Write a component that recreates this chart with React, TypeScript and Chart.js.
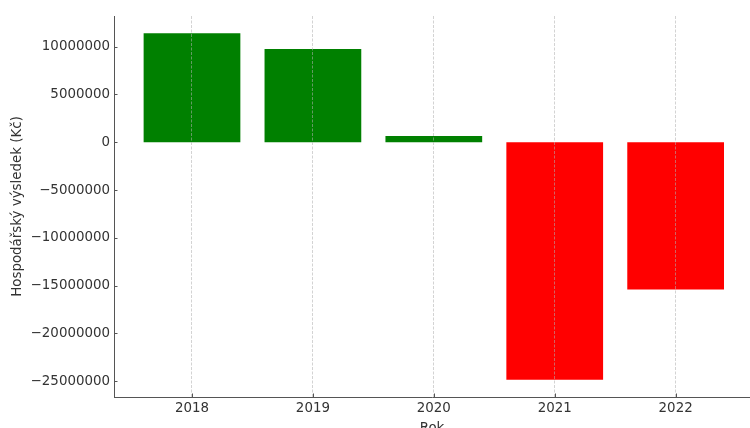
import React, { useEffect, useRef } from 'react';
import { Chart, registerables } from 'chart.js';

Chart.register(...registerables);

const years = ['2018', '2019', '2020', '2021', '2022'];
const results = [11400000, 9750000, 650000, -24850000, -15400000];
const yTickValues = [-25000000, -20000000, -15000000, -10000000, -5000000, 0, 5000000, 10000000];
const yTitle = 'Hospodářský výsledek (Kč)';
const xTitle = 'Rok';

const FONT = 'DejaVu Sans';
const FSIZE = 13.4;
const TEXT = '#333333';
const SPINE = '#555555';

const inwardTicks = {
  id: 'inwardTicks',
  afterDraw(chart: any) {
    const { ctx, chartArea, scales } = chart;
    ctx.save();
    ctx.strokeStyle = SPINE;
    ctx.lineWidth = 1;
    ctx.beginPath();
    scales.y.ticks.forEach((t: any) => {
      const y = Math.round(scales.y.getPixelForValue(t.value)) + 0.5;
      ctx.moveTo(chartArea.left, y);
      ctx.lineTo(chartArea.left + 3.5, y);
    });
    scales.x.ticks.forEach((t: any) => {
      const x = Math.round(scales.x.getPixelForValue(t.value)) + 0.5;
      ctx.moveTo(x, chartArea.bottom);
      ctx.lineTo(x, chartArea.bottom - 3.5);
    });
    ctx.stroke();
    ctx.restore();
  },
};

export default function App() {
  const ref = useRef<HTMLCanvasElement>(null);
  useEffect(() => {
    if (!ref.current) return;
    const dMin = Math.min(...results);
    const dMax = Math.max(...results);
    const margin = (dMax - dMin) * 0.05;
    const chart = new Chart(ref.current, {
      type: 'bar',
      data: {
        datasets: [
          {
            data: results.map((v, i) => ({ x: i, y: v })),
            backgroundColor: results.map((v) => (v >= 0 ? '#008000' : '#ff0000')),
            borderWidth: 0,
            barPercentage: 0.8,
            categoryPercentage: 1.0,
          },
        ],
      },
      options: {
        animation: false,
        responsive: false,
        devicePixelRatio: 1,
        layout: { padding: { top: 16, right: 0, left: 0, bottom: 0 } },
        plugins: { legend: { display: false }, tooltip: { enabled: false } },
        font: { family: FONT, size: FSIZE },
        scales: {
          x: {
            type: 'linear',
            min: -0.645,
            max: 4.615,
            offset: false,
            afterBuildTicks: (scale: any) => {
              scale.ticks = years.map((_, i) => ({ value: i }));
            },
            afterFit: (scale: any) => {
              scale.height = 31;
            },
            ticks: {
              callback: (v: any) => years[v] ?? '',
              color: TEXT,
              font: { family: FONT, size: FSIZE },
              padding: 3,
              maxRotation: 0,
              autoSkip: false,
            },
            grid: {
              display: true,
              offset: false,
              drawTicks: false,
              z: 1,
              color: 'rgba(176,176,176,0.7)',
              lineWidth: 0.8,
            },
            border: { display: true, z: 1, color: SPINE, width: 1, dash: [3, 1.5] },
            title: {
              display: true,
              text: xTitle,
              color: TEXT,
              font: { family: FONT, size: FSIZE },
              padding: { top: 0, bottom: -9 },
            },
          },
          y: {
            type: 'linear',
            min: dMin - margin,
            max: dMax + margin,
            afterBuildTicks: (scale: any) => {
              scale.ticks = yTickValues.map((v) => ({ value: v }));
            },
            afterFit: (scale: any) => {
              scale.width = 114;
            },
            ticks: {
              callback: (v: any) => (v < 0 ? '\u2212' + String(Math.abs(v)) : String(v)),
              color: TEXT,
              font: { family: FONT, size: FSIZE },
              padding: 4,
            },
            grid: { display: false, drawTicks: false },
            border: { display: true, color: SPINE, width: 1 },
            title: {
              display: true,
              text: yTitle,
              color: TEXT,
              font: { family: FONT, size: FSIZE },
              padding: { top: 9.4, bottom: 0 },
            },
          },
        },
      } as any,
      plugins: [inwardTicks],
    });
    return () => chart.destroy();
  }, []);
  return (
    <div style={{ position: 'absolute', left: 0, top: 0, width: 750, height: 428, background: '#fff' }}>
      <canvas ref={ref} width={750} height={428} />
    </div>
  );
}
